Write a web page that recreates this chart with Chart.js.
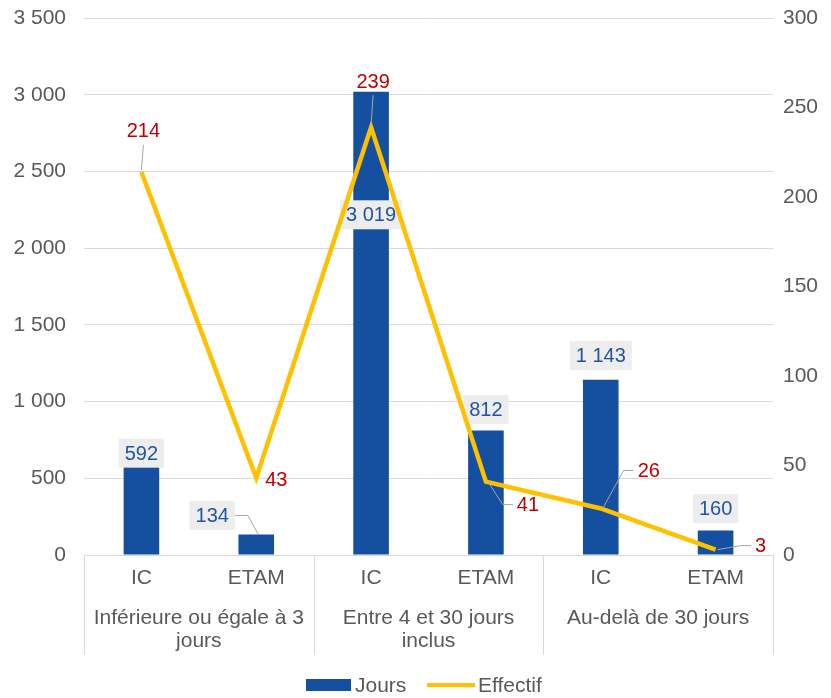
<!DOCTYPE html>
<html>
<head>
<meta charset="utf-8">
<script src="https://cdn.jsdelivr.net/npm/chart.js@4"></script>
<style>
  html, body { margin: 0; padding: 0; background: #fff; }
  #wrap { width: 831px; height: 698px; }
  canvas { display: block; }
</style>
</head>
<body>
<div id="wrap"><canvas id="myChart" width="831" height="698"></canvas></div>
<script>
// data
const categories = ['IC', 'ETAM', 'IC', 'ETAM', 'IC', 'ETAM'];
const groups = [['Inférieure ou égale à 3', 'jours'], ['Entre 4 et 30 jours', 'inclus'], ['Au-delà de 30 jours']];
const jours = [592, 134, 3019, 812, 1143, 160];
const effectif = [214, 43, 239, 41, 26, 3];
const leftTicks = [0, 500, 1000, 1500, 2000, 2500, 3000, 3500];
const rightTicks = [0, 50, 100, 150, 200, 250, 300];

// label placement (pixel offsets from the mark)
const barLabelPos = [[0, -11], [-44, -19], [0, 123], [0, -21], [0, -24], [0, -22]];
const lineLabelPos = [[2, -41], [20, 1], [2, -46], [42, 23], [48, -38], [45, -4]];
const barLeader = [false, true, false, false, false, false];
const lineLeader = [true, false, true, true, true, true];

const FONT = '"Liberation Sans", Arial, sans-serif';
const GREY = '#595959';
const BLUE = '#154FA0';
const GOLD = '#FFC000';

function fmt(v) {
  return String(v).replace(/\B(?=(\d{3})+(?!\d))/g, ' ');
}

function drawBarLabels(chart) {
  const ctx = chart.ctx;
  ctx.save();
  ctx.font = '20px ' + FONT;
  ctx.textAlign = 'center';
  ctx.textBaseline = 'middle';
  const bars = chart.getDatasetMeta(1).data;
  bars.forEach((b, i) => {
    const txt = fmt(jours[i]);
    const cx = b.x + barLabelPos[i][0];
    const cy = b.y + barLabelPos[i][1];
    const w = ctx.measureText(txt).width + 12;
    const h = 29;
    if (barLeader[i]) {
      ctx.strokeStyle = '#A6A6A6';
      ctx.lineWidth = 1;
      ctx.beginPath();
      ctx.moveTo(cx + w / 2, cy);
      ctx.lineTo(cx + w / 2 + 13, cy);
      ctx.lineTo(b.x + 2, b.y);
      ctx.stroke();
    }
    ctx.fillStyle = '#EDEDED';
    ctx.fillRect(cx - w / 2, cy - h / 2, w, h);
    ctx.fillStyle = '#1F55A5';
    ctx.fillText(txt, cx, cy + 1);
  });
  ctx.restore();
}

function drawLineLabels(chart) {
  const ctx = chart.ctx;
  ctx.save();
  ctx.font = '20px ' + FONT;
  ctx.textAlign = 'center';
  ctx.textBaseline = 'middle';
  const pts = chart.getDatasetMeta(0).data;
  pts.forEach((p, i) => {
    const txt = String(effectif[i]);
    const cx = p.x + lineLabelPos[i][0];
    const cy = p.y + lineLabelPos[i][1];
    const w = ctx.measureText(txt).width;
    if (lineLeader[i]) {
      ctx.strokeStyle = '#A6A6A6';
      ctx.lineWidth = 1;
      ctx.beginPath();
      if (Math.abs(lineLabelPos[i][0]) < 10) {
        ctx.moveTo(p.x, p.y - 2);
        ctx.lineTo(cx, cy + 14);
      } else {
        const ex = cx - w / 2 - 4;
        ctx.moveTo(p.x + 2, p.y);
        ctx.lineTo(ex - 10, cy);
        ctx.lineTo(ex, cy);
      }
      ctx.stroke();
    }
    ctx.fillStyle = '#C00000';
    ctx.fillText(txt, cx, cy + 1);
  });
  ctx.restore();
}

const extras = {
  id: 'extras',
  afterDatasetDraw(chart, args) {
    // bar labels go under the line, line labels on top
    if (args.index === 1) drawBarLabels(chart);
    if (args.index === 0) drawLineLabels(chart);
  },
  afterDraw(chart) {
    const ctx = chart.ctx;
    const area = chart.chartArea;
    ctx.save();
    // group separators
    ctx.strokeStyle = '#D9D9D9';
    ctx.lineWidth = 1;
    const step = (area.right - area.left) / categories.length;
    for (let g = 0; g <= groups.length; g++) {
      const gx = Math.round(area.left + g * 2 * step) + 0.5;
      ctx.beginPath();
      ctx.moveTo(gx, area.bottom);
      ctx.lineTo(gx, area.bottom + 100);
      ctx.stroke();
    }
    // group labels
    ctx.font = '21px ' + FONT;
    ctx.fillStyle = GREY;
    ctx.textAlign = 'center';
    ctx.textBaseline = 'middle';
    groups.forEach((lines, g) => {
      const gx = area.left + (g * 2 + 1) * step;
      lines.forEach((t, k) => ctx.fillText(t, gx, area.bottom + 63 + k * 23));
    });
    // legend
    const ly = 685;
    ctx.fillStyle = BLUE;
    ctx.fillRect(306, ly - 6, 45, 12);
    ctx.textAlign = 'left';
    ctx.fillStyle = GREY;
    ctx.fillText('Jours', 355, ly + 1);
    ctx.strokeStyle = GOLD;
    ctx.lineWidth = 4;
    ctx.beginPath();
    ctx.moveTo(427, ly);
    ctx.lineTo(475, ly);
    ctx.stroke();
    ctx.fillStyle = GREY;
    ctx.fillText('Effectif', 478, ly + 1);
    ctx.restore();
  }
};

function noPad(s) {
  s.paddingTop = 0;
  s.paddingBottom = 0;
}

const ctx = document.getElementById('myChart').getContext('2d');
new Chart(ctx, {
  data: {
    labels: categories,
    datasets: [
      {
        type: 'line',
        label: 'Effectif',
        data: effectif,
        yAxisID: 'y2',
        borderColor: GOLD,
        borderWidth: 4.5,
        pointRadius: 0,
        tension: 0,
        order: 0
      },
      {
        type: 'bar',
        label: 'Jours',
        data: jours,
        yAxisID: 'y',
        backgroundColor: BLUE,
        categoryPercentage: 1,
        barPercentage: 0.31,
        order: 1
      }
    ]
  },
  options: {
    responsive: false,
    animation: false,
    layout: { padding: { top: 18, left: 0, right: 0, bottom: 0 } },
    plugins: { legend: { display: false }, tooltip: { enabled: false } },
    scales: {
      x: {
        grid: { display: false, drawTicks: false },
        border: { color: '#D9D9D9' },
        ticks: { color: GREY, font: { family: FONT, size: 21 }, padding: 11, maxRotation: 0 },
        afterFit(s) { s.height = 143; s.paddingLeft = 0; s.paddingRight = 0; }
      },
      y: {
        position: 'left',
        min: 0, max: 3500,
        afterBuildTicks(s) { s.ticks = leftTicks.map(v => ({ value: v })); },
        grid: { color: '#D9D9D9', drawTicks: false },
        border: { display: false },
        ticks: { color: GREY, font: { family: FONT, size: 21 }, padding: 18, callback: v => fmt(v) },
        afterFit(s) { s.width = 84; noPad(s); }
      },
      y2: {
        position: 'right',
        min: 0, max: 300,
        afterBuildTicks(s) { s.ticks = rightTicks.map(v => ({ value: v })); },
        grid: { display: false, drawTicks: false },
        border: { display: false },
        ticks: { color: GREY, font: { family: FONT, size: 21 }, padding: 10 },
        afterFit(s) { s.width = 58; noPad(s); }
      }
    }
  },
  plugins: [extras]
});
</script>
</body>
</html>
